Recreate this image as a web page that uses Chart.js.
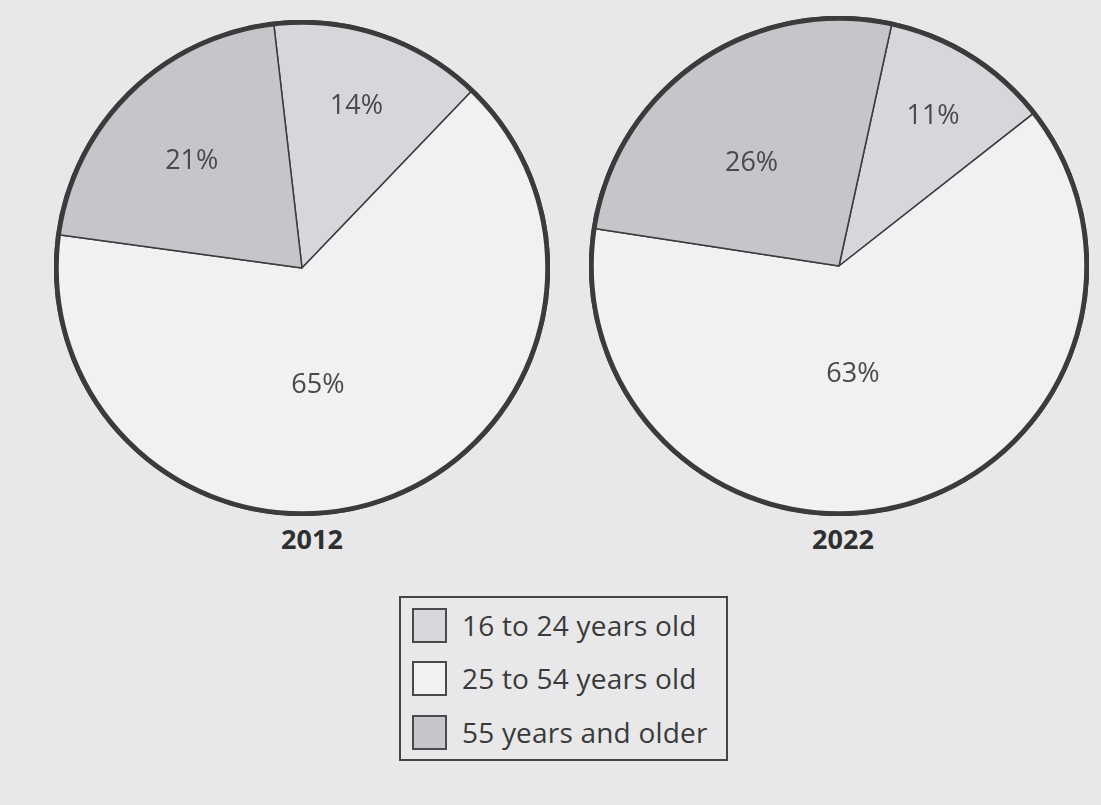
<!DOCTYPE html>
<html>
<head>
<meta charset="utf-8">
<script src="https://cdn.jsdelivr.net/npm/chart.js@4"></script>
<style>
  html, body { margin: 0; padding: 0; }
  body { width: 1101px; height: 805px; background: #e8e8ea; position: relative; overflow: hidden; font-family: "Open Sans", "Lato", sans-serif; }
  canvas { position: absolute; }
  .year { position: absolute; font-weight: 700; font-size: 27px; color: #2f2f2f; transform: translate(-50%, -50%); top: 538px; }
  #legend { position: absolute; left: 399px; top: 596px; width: 325px; height: 161px; border: 2px solid #444; }
  .row { position: absolute; left: 11px; height: 36px; display: flex; align-items: center; }
  .sw { width: 31px; height: 31px; border: 2px solid #4a4a4a; margin-right: 15px; box-sizing: content-box; flex: none; }
  .lbl { font-size: 28px; color: #3a3a3a; white-space: nowrap; letter-spacing: 0.2px; }
</style>
</head>
<body>
<canvas id="c2012" width="496" height="496" style="left:54px; top:20px;"></canvas>
<canvas id="c2022" width="500" height="500" style="left:589px; top:16px;"></canvas>
<div class="year" id="y0" style="left:312px;"></div>
<div class="year" id="y1" style="left:843px;"></div>
<div id="legend"></div>
<script>
// ---- data ----
const categories = ["16 to 24 years old", "25 to 54 years old", "55 years and older"];
const years = ["2012", "2022"];
const values2012 = [14, 65, 21];
const values2022 = [11, 63, 26];

// ---- style ----
const sliceColors = ["#d6d7db", "#f1f1f3", "#c5c6ca"];
const lineColor = "#3b3b3b";

const outerRing = {
  id: "outerRing",
  afterDatasetsDraw(chart) {
    const arc = chart.getDatasetMeta(0).data[0];
    if (!arc) return;
    const ctx = chart.ctx;
    ctx.save();
    ctx.beginPath();
    ctx.arc(arc.x, arc.y, arc.outerRadius - 1.5, 0, Math.PI * 2);
    ctx.lineWidth = 5;
    ctx.strokeStyle = lineColor;
    ctx.stroke();
    ctx.restore();
  }
};

const sliceLabels = {
  id: "sliceLabels",
  afterDatasetsDraw(chart, args, opts) {
    const meta = chart.getDatasetMeta(0);
    const data = chart.data.datasets[0].data;
    const ctx = chart.ctx;
    ctx.save();
    ctx.font = "400 27px 'Open Sans', Lato, sans-serif";
    ctx.fillStyle = "#4a4a4a";
    ctx.textAlign = "center";
    ctx.textBaseline = "middle";
    meta.data.forEach((arc, i) => {
      const mid = (arc.startAngle + arc.endAngle) / 2 + opts.shift[i] * Math.PI / 180;
      const r = arc.outerRadius * opts.frac[i];
      ctx.fillText(data[i] + "%", arc.x + Math.cos(mid) * r, arc.y + Math.sin(mid) * r);
    });
    ctx.restore();
  }
};

function makePie(id, values, rotation, frac, shift) {
  return new Chart(document.getElementById(id), {
    type: "pie",
    data: {
      labels: categories,
      datasets: [{
        data: values,
        backgroundColor: sliceColors,
        borderColor: lineColor,
        borderWidth: 1.5,
        borderAlign: "center"
      }]
    },
    options: {
      responsive: false,
      animation: false,
      rotation: rotation,
      layout: { padding: 0 },
      plugins: {
        legend: { display: false },
        tooltip: { enabled: false },
        sliceLabels: { frac: frac, shift: shift }
      }
    },
    plugins: [outerRing, sliceLabels]
  });
}

makePie("c2012", values2012, -6.6, [0.69, 0.48, 0.62], [0, 11.5, -1.6]);
makePie("c2022", values2022, 12.3, [0.71, 0.44, 0.54], [0, 7.4, -6]);

document.getElementById("y0").textContent = years[0];
document.getElementById("y1").textContent = years[1];

const legend = document.getElementById("legend");
const rowTops = [9, 62, 116];
categories.forEach((c, i) => {
  const row = document.createElement("div");
  row.className = "row";
  row.style.top = rowTops[i] + "px";
  const sw = document.createElement("div");
  sw.className = "sw";
  sw.style.background = sliceColors[i];
  const lbl = document.createElement("div");
  lbl.className = "lbl";
  lbl.textContent = c;
  row.appendChild(sw);
  row.appendChild(lbl);
  legend.appendChild(row);
});
</script>
</body>
</html>
